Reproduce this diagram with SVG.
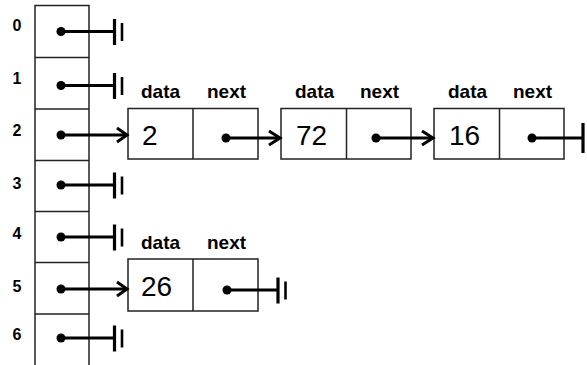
<svg xmlns="http://www.w3.org/2000/svg" width="587" height="365" viewBox="0 0 587 365">
<style>
.box{fill:#fff;stroke:#222;stroke-width:1.5}
.lbl{font-family:"Liberation Sans",Arial,sans-serif;font-weight:bold;font-size:16px;fill:#000}
.hdr{font-family:"Liberation Sans",Arial,sans-serif;font-weight:bold;font-size:19px;fill:#000}
.val{font-family:"Liberation Sans",Arial,sans-serif;font-size:28px;fill:#000}
.ln{stroke:#000;stroke-width:3;fill:none}
.bar{stroke:#000;stroke-width:3.2}
.bar2{stroke:#000;stroke-width:2.6}
.dot{fill:#000}
</style>
<rect width="587" height="365" fill="#fff"/>
<g id="array">
<rect class="box" x="35" y="5.5" width="54" height="370"/>
<line class="box" x1="35" y1="57.5" x2="89" y2="57.5"/>
<line class="box" x1="35" y1="109" x2="89" y2="109"/>
<line class="box" x1="35" y1="160.5" x2="89" y2="160.5"/>
<line class="box" x1="35" y1="211.5" x2="89" y2="211.5"/>
<line class="box" x1="35" y1="262.5" x2="89" y2="262.5"/>
<line class="box" x1="35" y1="314" x2="89" y2="314"/>
<text class="lbl" x="17" y="31" text-anchor="middle">0</text>
<text class="lbl" x="17" y="84" text-anchor="middle">1</text>
<text class="lbl" x="17" y="136" text-anchor="middle">2</text>
<text class="lbl" x="17" y="189" text-anchor="middle">3</text>
<text class="lbl" x="17" y="239" text-anchor="middle">4</text>
<text class="lbl" x="17" y="292" text-anchor="middle">5</text>
<text class="lbl" x="17" y="340" text-anchor="middle">6</text>
</g>
<g id="node-2">
<rect class="box" x="128" y="108.5" width="130" height="50.5"/>
<line class="box" x1="193" y1="108.5" x2="193" y2="159"/>
<text class="hdr" x="141" y="98">data</text>
<text class="hdr" x="207" y="98">next</text>
<text class="val" x="142" y="145">2</text>
</g>
<g id="node-72">
<rect class="box" x="281" y="108.5" width="130" height="50.5"/>
<line class="box" x1="346.5" y1="108.5" x2="346.5" y2="159"/>
<text class="hdr" x="295" y="98">data</text>
<text class="hdr" x="360" y="98">next</text>
<text class="val" x="296" y="145">72</text>
</g>
<g id="node-16">
<rect class="box" x="434" y="108.5" width="130" height="50.5"/>
<line class="box" x1="499.5" y1="108.5" x2="499.5" y2="159"/>
<text class="hdr" x="448" y="98">data</text>
<text class="hdr" x="513" y="98">next</text>
<text class="val" x="449" y="145">16</text>
</g>
<g id="node-26">
<rect class="box" x="128" y="259" width="130" height="52"/>
<line class="box" x1="193" y1="259" x2="193" y2="311"/>
<text class="hdr" x="141" y="249">data</text>
<text class="hdr" x="207" y="249">next</text>
<text class="val" x="141" y="296">26</text>
</g>
<g id="connectors">
<g>
<circle class="dot" cx="61" cy="31.5" r="4.5"/><line class="ln" x1="61" y1="31.5" x2="114.5" y2="31.5"/><line class="bar" x1="114.5" y1="19" x2="114.5" y2="45"/><line class="bar2" x1="122" y1="23" x2="122" y2="41"/>
</g>
<g>
<circle class="dot" cx="61" cy="85.5" r="4.5"/><line class="ln" x1="61" y1="85.5" x2="114.5" y2="85.5"/><line class="bar" x1="114.5" y1="73" x2="114.5" y2="99"/><line class="bar2" x1="122" y1="77" x2="122" y2="95"/>
</g>
<g>
<circle class="dot" cx="61" cy="185" r="4.5"/><line class="ln" x1="61" y1="185" x2="114.5" y2="185"/><line class="bar" x1="114.5" y1="172.5" x2="114.5" y2="198.5"/><line class="bar2" x1="122" y1="176.5" x2="122" y2="194.5"/>
</g>
<g>
<circle class="dot" cx="61" cy="237" r="4.5"/><line class="ln" x1="61" y1="237" x2="114.5" y2="237"/><line class="bar" x1="114.5" y1="224.5" x2="114.5" y2="250.5"/><line class="bar2" x1="122" y1="228.5" x2="122" y2="246.5"/>
</g>
<g>
<circle class="dot" cx="61" cy="338" r="4.5"/><line class="ln" x1="61" y1="338" x2="114.5" y2="338"/><line class="bar" x1="114.5" y1="325.5" x2="114.5" y2="351.5"/><line class="bar2" x1="122" y1="329.5" x2="122" y2="347.5"/>
</g>
<circle class="dot" cx="61" cy="135" r="4.5"/><line class="ln" x1="61" y1="135" x2="126.5" y2="135"/><polyline class="ln" points="117,128 127,135 117,142"/>
<circle class="dot" cx="61" cy="289" r="4.5"/><line class="ln" x1="61" y1="289" x2="126.5" y2="289"/><polyline class="ln" points="117,282 127,289 117,296"/>
<circle class="dot" cx="226" cy="138" r="4.5"/><line class="ln" x1="226" y1="138" x2="279.5" y2="138"/><polyline class="ln" points="269,131 280,138 269,145"/>
<circle class="dot" cx="376" cy="138" r="4.5"/><line class="ln" x1="376" y1="138" x2="432.5" y2="138"/><polyline class="ln" points="422,131 433,138 422,145"/>
<circle class="dot" cx="532" cy="138" r="4.5"/><line class="ln" x1="532" y1="138" x2="583" y2="138"/><line class="bar" x1="583" y1="123" x2="583" y2="153"/>
<circle class="dot" cx="227" cy="290" r="4.5"/><line class="ln" x1="227" y1="290" x2="278" y2="290"/><line class="bar" x1="278" y1="277.5" x2="278" y2="303.5"/><line class="bar2" x1="285.5" y1="281.5" x2="285.5" y2="299.5"/>
</g>
</svg>
